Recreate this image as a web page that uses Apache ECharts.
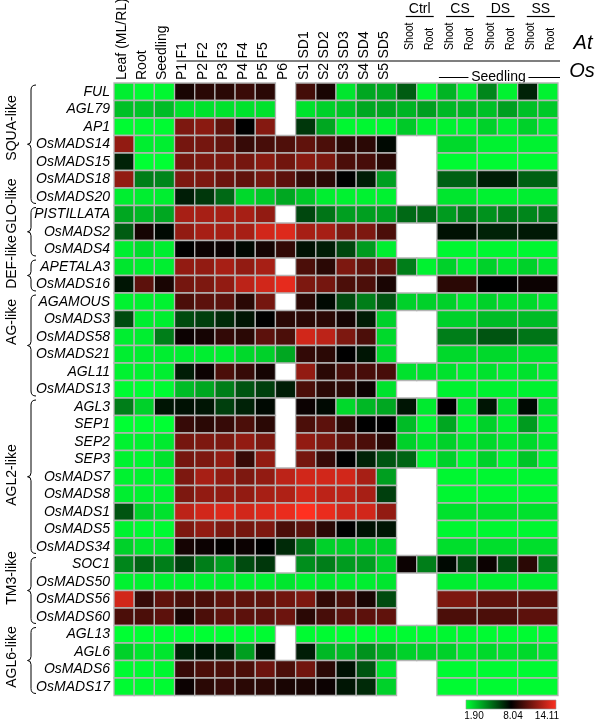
<!DOCTYPE html>
<html><head><meta charset="utf-8">
<script src="https://cdn.jsdelivr.net/npm/echarts@6/dist/echarts.min.js"></script>
<style>html,body{margin:0;padding:0;background:#fff}#c{width:600px;height:725px}</style>
</head><body><div id="c"></div>
<script>
// ---- columns ----
const columns = ['Leaf (ML/RL)','Root','Seedling','P1/F1','P2/F2','P3/F3','P4/F4','P5/F5','P6',
  'S1/SD1','S2/SD2','S3/SD3','S4/SD4','S5/SD5','Ctrl Shoot','Ctrl Root','CS Shoot','CS Root',
  'DS Shoot','DS Root','SS Shoot','SS Root'];
const commonLabels = ['Leaf (ML/RL)','Root','Seedling'];
const osStageLabels = ['P1','P2','P3','P4','P5','P6','S1','S2','S3','S4','S5'];      // cols 3..13
const atStageLabels = ['F1','F2','F3','F4','F5','','SD1','SD2','SD3','SD4','SD5'];   // cols 3..13
const tissueLabels = ['Shoot','Root','Shoot','Root','Shoot','Root','Shoot','Root']; // cols 14..21
const stressLabels = ['Ctrl','CS','DS','SS'];
const legendTicks = ['1.90','8.04','14.11'];

// ---- rows ----
const groupNames = ['SQUA-like','GLO-like','DEF-like','AG-like','AGL2-like','TM3-like','AGL6-like'];
const squaGenes = ['FUL','AGL79','AP1','OsMADS14','OsMADS15','OsMADS18','OsMADS20'];
const gloGenes = ['PISTILLATA','OsMADS2','OsMADS4'];
const defGenes = ['APETALA3','OsMADS16'];
const agGenes = ['AGAMOUS','OsMADS3','OsMADS58','OsMADS21','AGL11','OsMADS13'];
const agl2Genes = ['AGL3','SEP1','SEP2','SEP3','OsMADS7','OsMADS8','OsMADS1','OsMADS5','OsMADS34'];
const tm3Genes = ['SOC1','OsMADS50','OsMADS56','OsMADS60'];
const agl6Genes = ['AGL13','AGL6','OsMADS6','OsMADS17'];

// ---- values (null = no data; for Os genes the stress value sits in the Shoot column and covers Shoot+Root) ----
const squaValues = [
  [2.3,2.0,2.1, 8.6,9.0,9.0,9.4,9.0,null, 9.6,8.6,2.5,4.0,4.0, 5.8,2.1,3.7,2.3,4.8,2.2,7.2,2.2],
  [3.4,3.3,3.5, 2.6,2.6,2.6,2.6,2.6,null, 2.6,3.0,3.3,4.0,4.0, 3.7,4.2,3.6,3.6,3.4,4.2,3.4,3.2],
  [2.0,2.0,2.0, 11.0,11.3,10.3,8.0,11.2,null, 6.7,4.0,2.1,2.1,2.1, 3.2,2.2,2.2,2.2,3.0,2.3,3.0,2.3],
  [11.5,2.3,2.3, 10.8,10.8,10.4,9.3,9.7,9.9, 10.3,9.8,9.0,9.0,7.8, null,null,2.8,null,2.2,null,2.2,null],
  [7.2,1.9,1.9, 10.8,11.0,11.0,10.8,11.3,10.7, 11.3,11.0,9.8,9.7,9.0, null,null,2.0,null,2.0,null,2.0,null],
  [11.5,5.0,4.8, 11.0,11.0,10.6,10.3,10.8,10.2, 9.3,9.0,8.0,7.3,4.2, null,null,5.7,null,7.3,null,5.7,null],
  [2.3,2.3,2.3, 7.3,6.7,5.5,2.8,3.2,4.0, 3.2,2.3,2.2,2.2,2.2, null,null,2.5,null,2.2,null,2.3,null]
];
const gloValues = [
  [4.0,3.6,4.0, 12.0,12.0,12.0,12.0,11.5,null, 6.3,5.2,4.2,4.2,4.2, 5.5,5.5,4.3,5.0,4.5,5.0,4.8,5.0],
  [5.8,8.5,7.8, 11.5,12.0,12.0,12.0,13.0,13.3, 12.0,12.0,11.0,11.0,9.8, null,null,7.6,null,7.2,null,7.4,null],
  [2.3,2.7,2.3, 8.0,8.3,8.3,7.8,8.5,9.2, 7.6,7.3,6.3,4.3,2.3, null,null,2.1,null,2.1,null,2.1,null]
];
const defValues = [
  [2.5,2.3,2.3, 11.5,11.5,12.0,11.5,12.0,null, 9.8,9.0,11.0,10.3,10.3, 5.0,2.2,3.0,2.3,3.0,2.5,3.0,2.5],
  [7.5,10.2,8.6, 10.8,11.0,11.5,12.5,13.0,13.5, 11.0,10.8,9.8,9.8,8.6, null,null,9.0,null,8.0,null,8.3,null]
];
const agValues = [
  [2.2,2.2,2.2, 9.8,10.2,10.2,9.0,10.8,null, 9.0,7.8,6.2,5.0,6.0, 3.0,3.0,3.0,2.5,3.0,2.7,2.8,2.5],
  [6.2,2.3,2.3, 6.2,6.5,7.0,7.5,8.0,9.0, 9.0,9.0,8.5,7.3,3.0, null,null,3.0,null,3.5,null,3.5,null],
  [2.3,2.3,5.0, 8.3,8.5,9.2,9.0,10.2,9.8, 13.0,12.5,11.0,9.8,2.8, null,null,5.0,null,6.0,null,5.2,null],
  [2.3,2.3,2.3, 2.3,2.3,2.3,2.8,3.0,4.0, 9.2,9.0,8.0,7.5,2.8, null,null,2.8,null,2.8,null,2.6,null],
  [2.2,2.2,2.3, 7.3,8.3,9.8,9.3,8.5,null, 11.5,9.0,9.7,9.7,9.7, 2.6,2.6,2.6,2.3,2.6,2.3,2.6,2.3],
  [2.0,1.9,2.0, 3.5,4.0,5.0,6.0,6.5,7.3, 9.8,9.0,9.0,8.3,2.6, null,null,2.2,null,2.2,null,2.2,null]
];
const agl2Values = [
  [5.0,3.0,7.5, 7.6,7.5,6.5,7.2,7.8,null, 8.3,7.8,2.8,3.6,4.0, 7.5,2.4,8.0,2.5,7.5,2.6,7.8,2.6],
  [1.9,1.9,1.9, 9.3,9.0,9.3,9.8,9.0,null, 9.8,10.2,9.0,8.0,8.0, 3.5,2.1,4.0,2.1,3.0,2.2,4.3,2.2],
  [2.2,2.2,2.4, 10.8,11.0,11.0,11.5,11.0,null, 11.5,11.0,10.3,9.8,9.0, 3.0,2.5,3.0,2.5,2.8,2.5,2.8,2.4],
  [2.2,2.1,2.6, 10.8,11.0,11.5,9.3,11.5,null, 10.8,9.3,8.0,7.2,6.0, 5.6,2.1,3.0,2.1,3.0,2.1,3.3,2.1],
  [2.2,2.2,2.2, 11.0,12.0,11.5,11.0,11.5,12.5, 13.0,13.0,13.0,12.0,4.2, null,null,2.1,null,2.1,null,2.1,null],
  [2.3,2.2,2.2, 11.0,11.5,11.5,11.5,12.0,12.2, 13.0,12.5,12.5,12.0,6.5, null,null,2.1,null,2.1,null,2.1,null],
  [6.0,3.0,2.6, 12.5,13.0,13.3,13.0,13.3,13.6, 14.1,13.6,13.0,13.0,11.5, null,null,2.6,null,2.6,null,2.6,null],
  [2.2,2.0,2.0, 11.0,11.5,11.0,10.8,11.0,9.8, 10.2,9.0,8.0,7.6,7.5, null,null,2.1,null,2.1,null,2.1,null],
  [3.0,2.5,2.5, 8.5,8.3,8.1,8.3,8.0,7.0, 5.2,3.0,3.0,3.0,3.0, null,null,2.7,null,2.7,null,2.7,null]
];
const tm3Values = [
  [4.8,5.6,5.0, 6.5,5.0,4.2,6.2,6.7,null, 4.6,5.0,4.3,4.2,3.0, 8.3,5.0,7.8,6.2,8.3,6.2,9.0,5.0],
  [2.2,2.2,2.2, 2.2,2.2,2.3,2.2,2.2,2.5, 2.2,2.4,2.3,2.3,2.5, null,null,2.3,null,2.3,null,2.3,null],
  [13.0,9.3,10.3, 9.8,9.8,10.3,10.3,10.3,10.7, 11.0,9.2,9.8,8.6,6.2, null,null,11.0,null,10.3,null,10.2,null],
  [9.8,9.8,10.2, 8.6,9.8,10.3,10.2,10.2,10.6, 9.0,9.7,10.2,10.2,10.3, null,null,9.8,null,9.8,null,10.2,null]
];
const agl6Values = [
  [1.9,1.9,1.9, 1.9,1.9,1.9,1.9,2.0,null, 2.0,2.0,1.9,1.9,2.0, 2.0,2.0,2.1,2.1,2.0,2.0,2.0,2.0],
  [3.0,2.5,2.5, 7.2,7.5,7.2,4.2,7.6,null, 7.3,3.6,3.5,4.5,3.8, 3.0,3.0,3.0,2.5,2.8,2.6,2.8,2.5],
  [2.0,2.0,2.1, 9.3,9.8,9.8,9.8,10.6,9.8, 10.7,9.0,7.6,6.0,2.5, null,null,2.0,null,2.0,null,2.0,null],
  [2.0,2.0,2.0, 8.3,9.0,9.3,9.0,9.0,8.6, 8.6,8.3,7.5,7.0,3.0, null,null,2.0,null,2.0,null,2.0,null]
];

const groupGenes = [squaGenes, gloGenes, defGenes, agGenes, agl2Genes, tm3Genes, agl6Genes];
const groupValues = [squaValues, gloValues, defValues, agValues, agl2Values, tm3Values, agl6Values];
const genes = [].concat(...groupGenes);
const allValues = [].concat(...groupValues);

const cells = [];
allValues.forEach((row, r) => {
  const isOs = genes[r].indexOf('Os') === 0;
  row.forEach((v, c) => {
    if (v == null) return;
    const span = (isOs && c >= 16 && c % 2 === 0) ? 2 : 1;
    cells.push([c, r, v, span]);
  });
});

const FONT = '"Liberation Sans", Arial, Helvetica, sans-serif';
const chart = echarts.init(document.getElementById('c'), null, {renderer: 'canvas'});

function renderItem(params, api) {
  const c = api.value(0), r = api.value(1), span = api.value(3);
  const p = api.coord([c, r]);
  const s = api.size([1, 1]);
  return {
    type: 'rect',
    shape: {x: p[0] - s[0] / 2, y: p[1] - s[1] / 2, width: s[0] * span, height: s[1]},
    style: {fill: api.visual('color'), stroke: '#b4b4b4', lineWidth: 1.3}
  };
}

chart.setOption({
  animation: false,
  backgroundColor: '#fff',
  grid: {left: 114, top: 83, width: 444, height: 612.5},
  xAxis: {type: 'category', data: columns, show: false},
  yAxis: {
    type: 'category', data: genes, inverse: true,
    axisLine: {show: false}, axisTick: {show: false}, splitLine: {show: false},
    axisLabel: {interval: 0, fontStyle: 'italic', fontSize: 14, color: '#000', fontFamily: FONT, margin: 4}
  },
  visualMap: {
    show: false, type: 'continuous', min: 1.9, max: 14.11, dimension: 2, seriesIndex: 0,
    inRange: {color: ['#00ff33', '#000000', '#ff3020']}
  },
  series: [{type: 'custom', data: cells, renderItem: renderItem, encode: {x: 0, y: 1}}]
});

// ---- decorations ----
const xc = i => chart.convertToPixel({xAxisIndex: 0}, i);
const yc = i => chart.convertToPixel({yAxisIndex: 0}, i);
const cw = xc(1) - xc(0), rh = yc(1) - yc(0);
const g = [];
function txt(str, x, y, size, opts) {
  opts = opts || {};
  return {type: 'text', x: x, y: y, rotation: opts.rot || 0, scaleX: opts.sx || 1, silent: true,
    style: {text: str, fontSize: size, fontFamily: FONT, fontStyle: opts.italic ? 'italic' : 'normal',
      fill: '#000', align: opts.align || 'center', verticalAlign: 'middle',
      textAlign: opts.align || 'center', textVerticalAlign: 'middle'}};
}
function ln(x1, y1, x2, y2, w) {
  return {type: 'line', silent: true, shape: {x1: x1, y1: y1, x2: x2, y2: y2}, style: {stroke: '#000', lineWidth: w || 1}};
}
const R90 = Math.PI / 2;
commonLabels.forEach((t, i) => g.push(txt(t, xc(i) - 2, 80, 14, {rot: R90, align: 'left'})));
osStageLabels.forEach((t, i) => g.push(txt(t, xc(i + 3) - 2, 80, 14, {rot: R90, align: 'left'})));
atStageLabels.forEach((t, i) => { if (t) g.push(txt(t, xc(i + 3) - 2, 58.5, 14, {rot: R90, align: 'left'})); });
g.push(ln(xc(3) - cw / 2 + 2, 61, xc(21) + cw / 2 + 2, 61, 1.2));
tissueLabels.forEach((t, i) => g.push(txt(t, xc(i + 14) + 2.5, 50, 13.5, {rot: R90, align: 'left', sx: 0.78})));
stressLabels.forEach((t, k) => {
  const cx = xc(14 + 2 * k) + cw / 2 + 3;
  g.push(txt(t, cx, 9, 14));
  g.push(ln(cx - 14, 16.5, cx + 14, 16.5, 1.2));
});
const sc = (xc(16) + xc(21)) / 2 + 1;
g.push(txt('Seedling', sc, 77, 14));
g.push(ln(xc(16) - cw / 2 + 2, 77.5, sc - 30, 77.5, 1));
g.push(ln(sc + 30, 77.5, xc(21) + cw / 2 + 2, 77.5, 1));
g.push(txt('At', 583, 43, 20, {italic: true}));
g.push(txt('Os', 582, 71, 20, {italic: true}));

// group braces & labels (label centres placed as in the figure)
const groupLabelY = [128, 206, 262, 322, 475, 578, 657];
let start = 0;
groupGenes.forEach((arr, k) => {
  const y0 = yc(start) - rh / 2 + 2, y1 = yc(start + arr.length - 1) + rh / 2 - 2, ym = (y0 + y1) / 2;
  const xm = 31, xr = 36, xl = 27.5;
  const st = {stroke: '#000', lineWidth: 1, fill: null};
  g.push({type: 'bezierCurve', silent: true, shape: {x1: xr, y1: y0, x2: xm, y2: y0 + 5, cpx1: xm, cpy1: y0}, style: st});
  g.push(ln(xm, y0 + 5, xm, ym - 4));
  g.push({type: 'bezierCurve', silent: true, shape: {x1: xm, y1: ym - 4, x2: xl, y2: ym, cpx1: xm, cpy1: ym}, style: st});
  g.push({type: 'bezierCurve', silent: true, shape: {x1: xl, y1: ym, x2: xm, y2: ym + 4, cpx1: xm, cpy1: ym}, style: st});
  g.push(ln(xm, ym + 4, xm, y1 - 5));
  g.push({type: 'bezierCurve', silent: true, shape: {x1: xm, y1: y1 - 5, x2: xr, y2: y1, cpx1: xm, cpy1: y1}, style: st});
  g.push(txt(groupNames[k], 12, groupLabelY[k], 14, {rot: R90}));
  start += arr.length;
});

// colour legend
const lx0 = 466, lx1 = 556, ly = 700, lh = 9;
g.push({type: 'rect', silent: true, shape: {x: lx0, y: ly, width: lx1 - lx0, height: lh},
  style: {fill: new echarts.graphic.LinearGradient(0, 0, 1, 0, [
    {offset: 0, color: '#00ff33'}, {offset: 0.5, color: '#000000'}, {offset: 1, color: '#ff3020'}]),
    stroke: '#999', lineWidth: 0.6}});
g.push(txt(legendTicks[0], 474, 716, 10));
g.push(txt(legendTicks[1], 513, 716, 10));
g.push(txt(legendTicks[2], 547, 716, 10));

chart.setOption({graphic: g});
</script></body></html>
